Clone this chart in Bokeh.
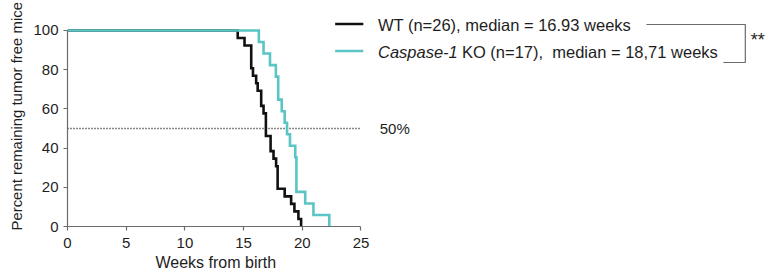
import numpy as np
from bokeh.plotting import figure
from bokeh.models import Range1d, FixedTicker, Label, Title
from bokeh.embed import file_html
from bokeh.resources import INLINE

# ---- data ----
wt_times = [14.5, 15.08, 15.65, 15.65, 15.65, 15.8, 16.07, 16.2, 16.5, 16.5,
            16.7, 16.9, 16.9, 16.9, 17.3, 17.3, 17.55, 17.77, 17.9, 17.9,
            17.9, 18.5, 19.05, 19.33, 19.67, 19.9]
ko_times = [16.3, 16.7, 17.25, 17.75, 17.95, 17.95, 18.25, 18.5, 18.7, 18.95,
            19.4, 19.5, 19.5, 19.5, 20.25, 20.95, 22.3]
x_ticks = [0, 5, 10, 15, 20, 25]
y_ticks = [0, 20, 40, 60, 80, 100]
ref_level = 50
wt_label = "WT (n=26), median = 16.93 weeks"
ko_label_italic = "Caspase-1"
ko_label_rest = "KO (n=17),\u00a0 median = 18,71 weeks"
signif = "**"
x_title = "Weeks from birth"
y_title = "Percent remaining tumor free mice"

BLACK = "#111111"
TEAL = "#5bc4c4"
GREY = "#6b6b6b"
FONT = "Liberation Sans"
TXT = "#1e1e1e"


def km_steps(times):
    times = np.sort(np.asarray(times, dtype=float))
    n = len(times)
    uniq, counts = np.unique(times, return_counts=True)
    xs = [0.0]
    ys = [100.0]
    remaining = n
    for t, c in zip(uniq, counts):
        remaining -= c
        xs.append(t)
        ys.append(100.0 * remaining / n)
    return xs, ys


p = figure(width=769, height=276, output_backend="svg", toolbar_location=None,
           x_range=Range1d(0, 59.8), y_range=Range1d(0, 115.3),
           min_border_left=66, min_border_right=0, min_border_top=0,
           min_border_bottom=50)
p.outline_line_color = None
p.xgrid.visible = False
p.ygrid.visible = False
p.background_fill_color = "white"
p.border_fill_color = "white"

for ax, ticks, bnds in ((p.xaxis, x_ticks, (0, 25)), (p.yaxis, y_ticks, (0, 100))):
    ax.ticker = FixedTicker(ticks=ticks)
    ax.bounds = bnds
    ax.axis_line_color = GREY
    ax.axis_line_width = 1.2
    ax.major_tick_line_color = GREY
    ax.major_tick_line_width = 1.2
    ax.major_tick_out = 4
    ax.major_tick_in = 0
    ax.minor_tick_line_color = None
    ax.major_label_text_font = FONT
    ax.major_label_text_font_size = "15px"
    ax.major_label_text_color = TXT
p.xaxis.major_label_standoff = 7
p.yaxis.major_label_standoff = 5

p.add_layout(Title(text=x_title, align="left", offset=88, text_font=FONT,
                   text_font_size="16px", text_font_style="normal",
                   text_color=TXT, standoff=3), "below")
p.add_layout(Title(text=y_title, align="left", offset=-4, text_font=FONT,
                   text_font_size="14.9px", text_font_style="normal",
                   text_color=TXT, standoff=12), "left")

# reference line at 50 %
p.line([0, 25], [ref_level, ref_level], line_color=BLACK, line_width=1.5,
       line_dash="1 2")
p.add_layout(Label(x=26.6, y=ref_level, text="50%", text_font=FONT,
                   text_font_size="15px", text_color=TXT,
                   text_baseline="middle", text_align="left"))

# survival curves
wx, wy = km_steps(wt_times)
kx, ky = km_steps(ko_times)
p.step(wx, wy, mode="after", line_color=BLACK, line_width=2.6, line_join="miter")
p.step(kx, ky, mode="after", line_color=TEAL, line_width=2.6, line_join="miter")

# legend
p.line([22.8, 25.2], [103.3, 103.3], line_color=BLACK, line_width=2.6)
p.line([22.8, 25.2], [89.5, 89.5], line_color=TEAL, line_width=2.6)
p.add_layout(Label(x=26.45, y=102.8, text=wt_label, text_font=FONT,
                   text_font_size="16.5px", text_color=TXT,
                   text_baseline="middle"))
p.add_layout(Label(x=26.45, y=88.8, text=ko_label_italic, text_font=FONT,
                   text_font_style="italic", text_font_size="16.5px",
                   text_color=TXT, text_baseline="middle"))
p.add_layout(Label(x=33.6, y=88.8, text=ko_label_rest, text_font=FONT,
                   text_font_size="16.5px", text_color=TXT,
                   text_baseline="middle"))

# significance bracket
p.line([49.32, 57.74, 57.74, 55.87], [103.06, 103.06, 83.67, 83.67],
       line_color=GREY, line_width=1.2)
p.add_layout(Label(x=58.2, y=95.0, text=signif, text_font=FONT,
                   text_font_size="18px", text_color=TXT,
                   text_baseline="middle"))

open("out.html", "w").write(file_html(p, INLINE))
